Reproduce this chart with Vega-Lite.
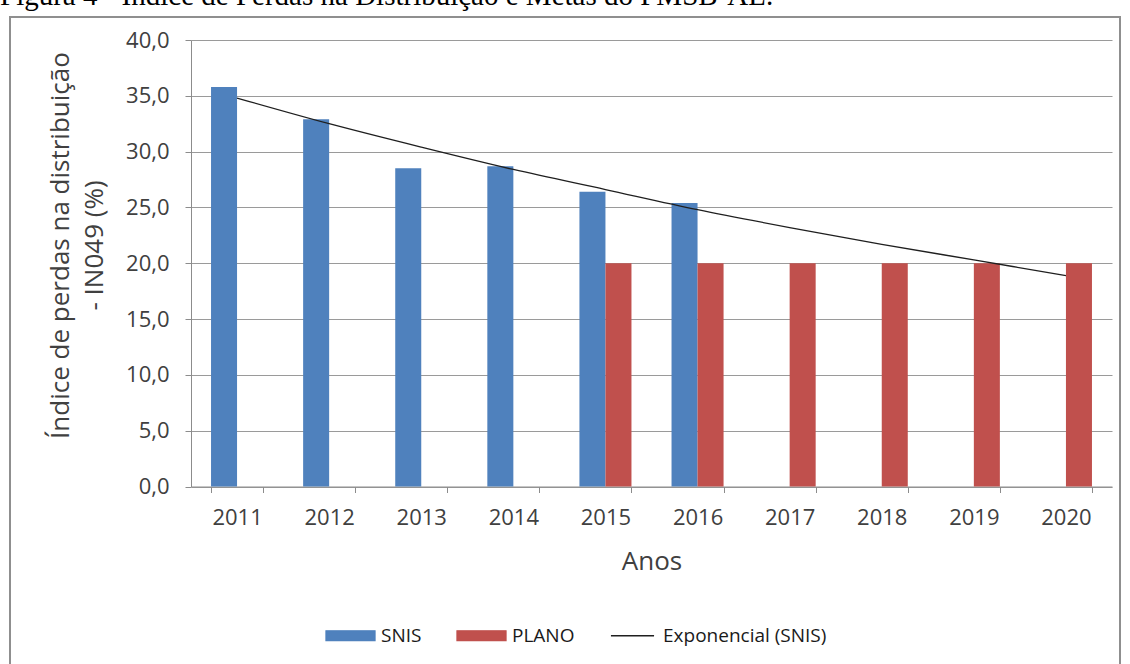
{
  "$schema": "https://vega.github.io/schema/vega-lite/v6.json",
  "width": 1110,
  "height": 670,
  "autosize": {"type": "none"},
  "padding": {"left": 10, "top": 17, "right": 10, "bottom": -23},
  "background": "white",
  "title": {
    "text": "Figura 4 - Índice de Perdas na Distribuição e Metas do PMSB-AL.",
    "anchor": "start",
    "frame": "group",
    "dx": -10,
    "dy": 23,
    "offset": 6,
    "baseline": "alphabetic",
    "font": "Liberation Serif",
    "fontSize": 29,
    "fontWeight": "normal",
    "color": "#000000"
  },
  "config": {
    "font": "Open Sans",
    "view": {"stroke": "#8f8f8f", "strokeWidth": 2, "fill": "white"}
  },
  "layer": [
    {
      "data": {
        "values": [
          {"ano": "2011", "serie": "SNIS", "valor": 35.8},
          {"ano": "2012", "serie": "SNIS", "valor": 32.9},
          {"ano": "2013", "serie": "SNIS", "valor": 28.5},
          {"ano": "2014", "serie": "SNIS", "valor": 28.7},
          {"ano": "2015", "serie": "SNIS", "valor": 26.4},
          {"ano": "2016", "serie": "SNIS", "valor": 25.4},
          {"ano": "2015", "serie": "PLANO", "valor": 20.0},
          {"ano": "2016", "serie": "PLANO", "valor": 20.0},
          {"ano": "2017", "serie": "PLANO", "valor": 20.0},
          {"ano": "2018", "serie": "PLANO", "valor": 20.0},
          {"ano": "2019", "serie": "PLANO", "valor": 20.0},
          {"ano": "2020", "serie": "PLANO", "valor": 20.0}
        ]
      },
      "mark": {"type": "bar"},
      "encoding": {
        "x": {
          "field": "ano",
          "type": "nominal",
          "scale": {
            "domain": ["2011", "2012", "2013", "2014", "2015", "2016", "2017", "2018", "2019", "2020"],
            "range": [181, 1102],
            "paddingInner": 0.435,
            "paddingOuter": 0.2175
          },
          "axis": {
            "orient": "bottom",
            "offset": -200.5,
            "title": "Anos",
            "labelAngle": 0,
            "labelFontSize": 22,
            "labelColor": "#404040",
            "labelPadding": 15,
            "tickBand": "extent",
            "tickSize": 6,
            "tickColor": "#8c8c8c",
            "domainColor": "#8c8c8c",
            "grid": false,
            "titleFontSize": 26,
            "titleFontWeight": "normal",
            "titleColor": "#404040",
            "titlePadding": 20
          }
        },
        "xOffset": {
          "field": "serie",
          "type": "nominal",
          "scale": {"domain": ["SNIS", "PLANO"], "paddingInner": 0, "paddingOuter": 0}
        },
        "y": {
          "field": "valor",
          "type": "quantitative",
          "scale": {"domain": [0, 40], "range": [469.5, 23], "nice": false},
          "axis": {
            "orient": "left",
            "offset": -181,
            "values": [0, 5, 10, 15, 20, 25, 30, 35, 40],
            "labelExpr": "replace(format(datum.value, '.1f'), '.', ',')",
            "labelFontSize": 22,
            "labelColor": "#404040",
            "labelPadding": 16,
            "tickSize": 6,
            "tickColor": "#8c8c8c",
            "domainColor": "#8c8c8c",
            "grid": true,
            "gridColor": "#9a9a9a",
            "title": ["Índice de perdas na distribuição", "- IN049 (%)"],
            "titleFontSize": 26,
            "titleFontWeight": "normal",
            "titleColor": "#404040",
            "titleLineHeight": 34,
            "titlePadding": 18,
            "titleY": 228
          }
        },
        "color": {
          "field": "serie",
          "type": "nominal",
          "scale": {
            "domain": ["SNIS", "PLANO", "Exponencial (SNIS)"],
            "range": ["#4F81BD", "#C0504D", "#1f1f1f"]
          },
          "legend": {
            "orient": "none",
            "legendX": 315,
            "legendY": 593,
            "direction": "horizontal",
            "title": null,
            "padding": 0,
            "symbolSize": 2401,
            "symbolType": "M-1,-0.2H1V0.2H-1Z",
            "labelFontSize": 19,
            "labelColor": "#1a1a1a",
            "labelOffset": 5,
            "labelLimit": 400,
            "columnPadding": 32,
            "encode": {
              "symbols": {
                "update": {
                  "shape": {"signal": "datum.value === 'Exponencial (SNIS)' ? 'M-0.88,0H0.88' : 'M-1,-0.2H1V0.2H-1Z'"},
                  "fill": {"signal": "datum.value === 'Exponencial (SNIS)' ? 'transparent' : scale('color', datum.value)"},
                  "stroke": {"signal": "datum.value === 'Exponencial (SNIS)' ? '#1f1f1f' : 'transparent'"},
                  "strokeWidth": {"value": 1.3},
                  "opacity": {"value": 1}
                }
              }
            }
          }
        }
      }
    },
    {
      "data": {
        "values": [
          {"ano": "2011", "serie": "Exponencial (SNIS)", "valor": 34.8},
          {"ano": "2012", "serie": "Exponencial (SNIS)", "valor": 32.5},
          {"ano": "2013", "serie": "Exponencial (SNIS)", "valor": 30.4},
          {"ano": "2014", "serie": "Exponencial (SNIS)", "valor": 28.4},
          {"ano": "2015", "serie": "Exponencial (SNIS)", "valor": 26.6},
          {"ano": "2016", "serie": "Exponencial (SNIS)", "valor": 24.8},
          {"ano": "2017", "serie": "Exponencial (SNIS)", "valor": 23.2},
          {"ano": "2018", "serie": "Exponencial (SNIS)", "valor": 21.7},
          {"ano": "2019", "serie": "Exponencial (SNIS)", "valor": 20.3},
          {"ano": "2020", "serie": "Exponencial (SNIS)", "valor": 18.9}
        ]
      },
      "mark": {"type": "line", "interpolate": "monotone", "strokeWidth": 1.3},
      "encoding": {
        "x": {"field": "ano", "type": "nominal"},
        "y": {"field": "valor", "type": "quantitative"},
        "color": {"field": "serie", "type": "nominal"}
      }
    }
  ]
}
